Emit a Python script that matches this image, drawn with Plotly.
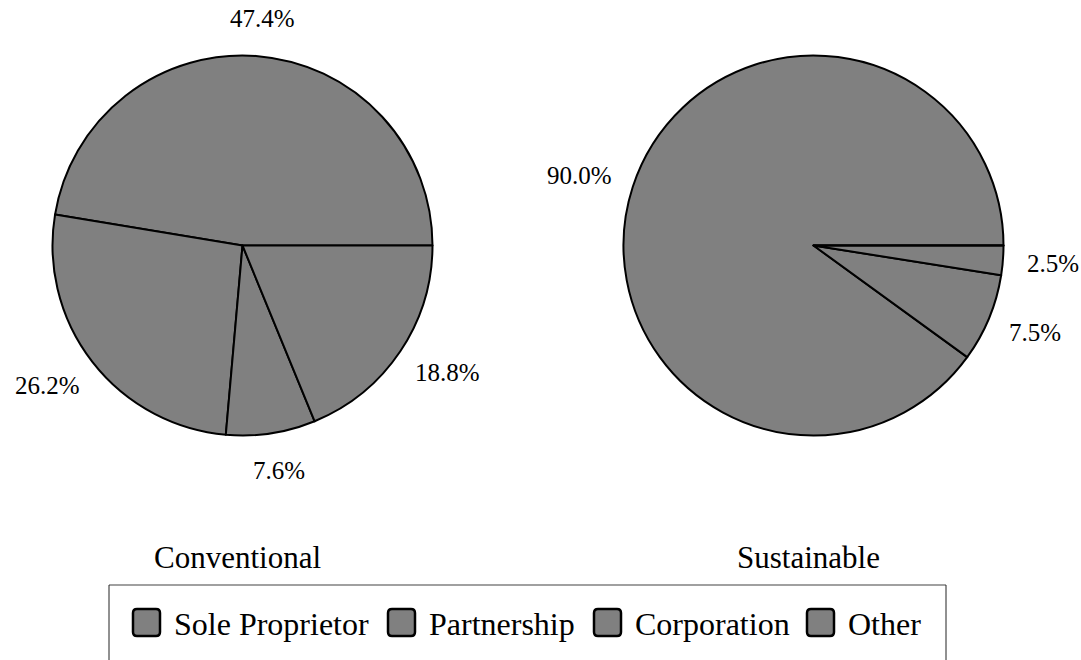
import math
import plotly.graph_objects as go

# Farm business organisation, share of farms (%)
categories = ["Sole Proprietor", "Partnership", "Corporation", "Other"]
conventional = [47.4, 26.2, 7.6, 18.8]
sustainable = [90.0, 7.5, 2.5, 0.0]
group_titles = ["Conventional", "Sustainable"]

W, H = 1081, 660
FONT = "Liberation Serif, Times New Roman, serif"
FILL = "#808080"

# pie geometry in pixels (center x, center y, radius)
R = 190
centers = [(242.5, 245.5), (813.5, 245.5)]
title_x = [237, 808]
title_y = 557

LABEL_SIZE = 25
LABEL_GAP = 24

# legend layout (pixels)
LEG_BOX = (109, 585, 946)          # left, top, right
LEG_KEY_X = [133, 388, 594, 807]   # left edge of each key square
LEG_KEY_Y = 609
LEG_KEY = 27
LEG_TEXT_GAP = 39
LEG_TEXT_Y = 624
LEG_FONT = 32


def px_to_paper(x, y):
    return x / W, 1 - y / H


def rounded_square(x, y, s, r):
    """SVG path (paper coords) for a rounded square with top-left at (x, y) px."""
    def P(px_, py_):
        a, b = px_to_paper(px_, py_)
        return f"{a:.5f},{b:.5f}"

    pts = [
        "M" + P(x + r, y),
        "L" + P(x + s - r, y),
        "Q" + P(x + s, y) + " " + P(x + s, y + r),
        "L" + P(x + s, y + s - r),
        "Q" + P(x + s, y + s) + " " + P(x + s - r, y + s),
        "L" + P(x + r, y + s),
        "Q" + P(x, y + s) + " " + P(x, y + s - r),
        "L" + P(x, y + r),
        "Q" + P(x, y) + " " + P(x + r, y),
    ]
    return " ".join(pts) + " Z"


fig = go.Figure()
annotations = []
for vals, (cx, cy) in zip([conventional, sustainable], centers):
    x0, y1 = px_to_paper(cx - R, cy - R)
    x1, y0 = px_to_paper(cx + R, cy + R)
    total = sum(vals)
    # first slice runs counterclockwise from 3 o'clock
    start = 90 - 360 * vals[0] / total
    fig.add_trace(go.Pie(
        labels=categories,
        values=vals,
        sort=False,
        direction="counterclockwise",
        rotation=start,
        textinfo="none",
        hoverinfo="label+percent",
        marker=dict(colors=[FILL] * len(categories),
                    line=dict(color="black", width=2)),
        domain=dict(x=[x0, x1], y=[y0, y1]),
        showlegend=False,
    ))

    # percentage labels placed outside each slice, along its mid-angle
    cum = 0.0
    for v in vals:
        if v <= 0:
            continue
        mid = (cum + v / 2) / total * 2 * math.pi
        cum += v
        ux, uy = math.cos(mid), math.sin(mid)
        txt = f"{v:.1f}%"
        n_digits = sum(c.isdigit() for c in txt)
        tw = LABEL_SIZE * (0.5 * n_digits + 0.25 + 0.833)
        th = LABEL_SIZE * 1.1
        lx = cx + (R + LABEL_GAP) * ux + ux * tw / 2
        ly = cy - (R + LABEL_GAP) * uy - uy * th / 2
        px_, py_ = px_to_paper(lx, ly)
        annotations.append(dict(
            x=px_, y=py_, xref="paper", yref="paper",
            text=txt, showarrow=False,
            xanchor="center", yanchor="middle",
            font=dict(family=FONT, size=LABEL_SIZE, color="black"),
        ))

for t, tx in zip(group_titles, title_x):
    ax, ay = px_to_paper(tx, title_y)
    annotations.append(dict(
        x=ax, y=ay, xref="paper", yref="paper", text=t, showarrow=False,
        xanchor="center", yanchor="middle",
        font=dict(family=FONT, size=31, color="black"),
    ))

# legend: frame, key squares and category names
shapes = []
bl, bt, br = LEG_BOX
xl, yt = px_to_paper(bl, bt)
xr, yb = px_to_paper(br, H + 5)
shapes.append(dict(type="line", xref="paper", yref="paper",
                   x0=xl, x1=xr, y0=yt, y1=yt,
                   line=dict(color="#808080", width=1.5)))
for xs in (xl, xr):
    shapes.append(dict(type="line", xref="paper", yref="paper",
                       x0=xs, x1=xs, y0=yt, y1=yb,
                       line=dict(color="#222222", width=1)))

for name, kx in zip(categories, LEG_KEY_X):
    shapes.append(dict(type="path", xref="paper", yref="paper",
                       path=rounded_square(kx, LEG_KEY_Y, LEG_KEY, 4),
                       fillcolor=FILL, line=dict(color="black", width=2.5)))
    tx, ty = px_to_paper(kx + LEG_TEXT_GAP, LEG_TEXT_Y)
    annotations.append(dict(
        x=tx, y=ty, xref="paper", yref="paper", text=name, showarrow=False,
        xanchor="left", yanchor="middle",
        font=dict(family=FONT, size=LEG_FONT, color="black"),
    ))

fig.update_layout(
    width=W, height=H,
    margin=dict(l=0, r=0, t=0, b=0),
    paper_bgcolor="white",
    plot_bgcolor="white",
    font=dict(family=FONT, color="black"),
    annotations=annotations,
    shapes=shapes,
    showlegend=False,
)

fig.write_html("out.html")
